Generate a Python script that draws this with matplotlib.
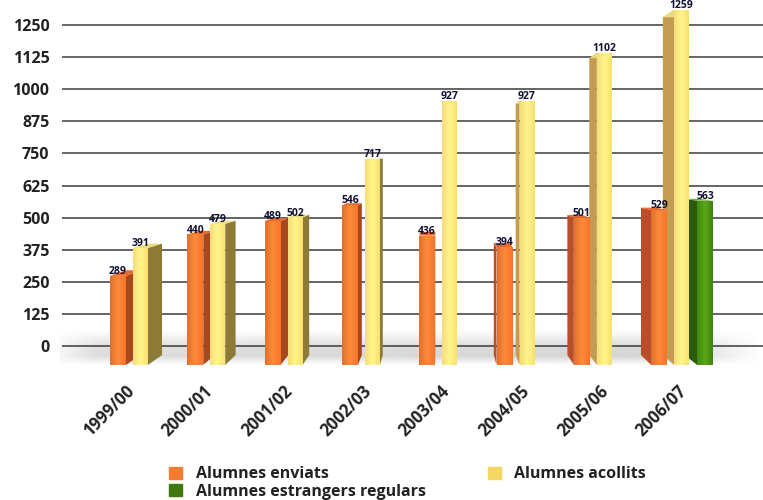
import numpy as np
import matplotlib
matplotlib.use('Agg')
import matplotlib.pyplot as plt
from matplotlib.colors import LinearSegmentedColormap
from matplotlib.patches import Patch, Polygon

plt.rcParams['font.family'] = ['Open Sans', 'DejaVu Sans']

# Data
years = ['1999/00', '2000/01', '2001/02', '2002/03', '2003/04', '2004/05', '2005/06', '2006/07']
enviats = [289, 440, 489, 546, 436, 394, 501, 529]
acollits = [391, 479, 502, 717, 927, 927, 1102, 1259]
estrangers = [None, None, None, None, None, None, None, 563]
y_ticks = [0, 125, 250, 375, 500, 625, 750, 875, 1000, 1125, 1250]

# Layout: the x axis runs in figure pixels, bars have their own front-plane y scale
W, H = 763, 500
AX_LEFT, AX_BOTTOM = 55, 375
GRID_ZERO, GRID_SCALE = 346, 0.2568
FRONT_ZERO, FRONT_SCALE = 355, 0.274
BAR_BASE = -36
VP_X, VP_V, DEPTH = 440, 710, 0.048

STYLES = {
    'enviats': dict(offset=-11, width=16, front=['#e0702e', '#ff8a3c', '#f8742a'],
                    right='#a8481f', left='#b94e28', top='#e8682a'),
    'acollits': dict(offset=12, width=15, front=['#f5dc7c', '#fff68a', '#f8e070'],
                     right='#8c7a36', left='#c39c52', top='#e8dc80'),
    'estrangers': dict(offset=35, width=16, front=['#3f8a10', '#5aa618', '#3c8410'],
                       right='#2c5a0c', left='#2c5a0c', top='#6fb030'),
}

fig = plt.figure(figsize=(W / 100, H / 100), dpi=100)
ax = fig.add_axes([AX_LEFT / W, (H - AX_BOTTOM) / H, 1 - AX_LEFT / W, AX_BOTTOM / H])

# Grey floor behind the bars
ny, nx = 60, 200
vert = np.interp(np.linspace(0, 1, ny), [0, 0.5, 0.75, 1], [0, 0.28, 0.3, 0])
horiz = np.interp(np.linspace(0, 1, nx), [0, 0.05, 0.88, 1], [0.25, 0.8, 1, 0])
floor = np.zeros((ny, nx, 4))
floor[..., :3] = 0.45
floor[..., 3] = np.outer(vert, horiz)
ax.imshow(floor, extent=(60, W, -74, 62), origin='upper', aspect='auto', zorder=1)
ax.set_xlim(AX_LEFT, W)
ax.set_ylim((GRID_ZERO - AX_BOTTOM) / GRID_SCALE, GRID_ZERO / GRID_SCALE)

for t in y_ticks:
    ax.plot([62, W], [t, t], color='#3a3a3a', lw=1.1, zorder=2, solid_capstyle='butt')

ax.set_yticks(y_ticks)
ax.set_yticklabels([str(t) for t in y_ticks], fontsize=11.5, fontweight='bold', color='#222222')
ax.tick_params(axis='y', length=0, pad=4)
ax.set_xticks([125 + 79 * i for i in range(len(years))])
ax.set_xticklabels(years, rotation=45, ha='right', rotation_mode='anchor',
                   fontsize=12, fontweight='bold', color='#222222')
ax.tick_params(axis='x', length=0, pad=5)
for s in ax.spines.values():
    s.set_visible(False)

# Bars, on a twin y axis for the front plane
front = ax.twinx()
front.patch.set_visible(False)
front.axis('off')


def back(x, v):
    return x + (VP_X - x) * DEPTH, v + (VP_V - v) * DEPTH


def draw_bar(x0, value, style, z):
    w = style['width']
    x1 = x0 + w
    # side face, towards the vanishing point
    if x1 <= VP_X:
        edge, color = x1, style['right']
    else:
        edge, color = x0, style['left']
    bx, bv = back(edge, value)
    bx0, bv0 = back(edge, BAR_BASE)
    front.add_patch(Polygon([(edge, BAR_BASE), (edge, value), (bx, bv), (bx0, bv0)],
                            closed=True, fc=color, ec='none', zorder=z))
    # top face
    top = [(x0, value), (x1, value), back(x1, value), back(x0, value)]
    front.add_patch(Polygon(top, closed=True, fc=style['top'], ec='none', zorder=z))
    # front face with a soft horizontal shine
    bar = front.bar(x0, value - BAR_BASE, bottom=BAR_BASE, width=w, align='edge',
                    color=style['front'][1], zorder=z + 0.1)[0]
    cmap = LinearSegmentedColormap.from_list('f', style['front'])
    im = front.imshow(np.linspace(0, 1, 32).reshape(1, -1), extent=(x0, x1, BAR_BASE, value),
                      cmap=cmap, aspect='auto', zorder=z + 0.2)
    im.set_clip_path(bar)
    front.text(x0 + w / 2, value + 7, str(value), ha='center', va='baseline', fontsize=7.5,
               fontweight='bold', color='#111133', zorder=50)


z = 3
for i in range(len(years)):
    center = 121 + 77.3 * i
    series = [('enviats', enviats[i]), ('acollits', acollits[i]), ('estrangers', estrangers[i])]
    if center > VP_X:
        series = series[::-1]
    for name, value in series:
        if value is None:
            continue
        draw_bar(center + STYLES[name]['offset'], value, STYLES[name], z)
        z += 1

front.set_xlim(AX_LEFT, W)
front.set_ylim((FRONT_ZERO - AX_BOTTOM) / FRONT_SCALE, FRONT_ZERO / FRONT_SCALE)

handles = [Patch(color='#fb7a33', label='Alumnes enviats'),
           Patch(color='#3f7a10', label='Alumnes estrangers regulars'),
           Patch(color='#f5d660', label='Alumnes acollits')]
fig.legend(handles=handles, ncol=2, frameon=False,
           loc='lower left', bbox_to_anchor=(158 / W, -0.022),
           handlelength=0.8, handleheight=0.8, handletextpad=0.85,
           labelspacing=0.1, columnspacing=3.9, borderpad=0.2,
           labelcolor='#222222', prop=dict(size=11.5, weight='bold'))

fig.savefig('out.png', dpi=100)
